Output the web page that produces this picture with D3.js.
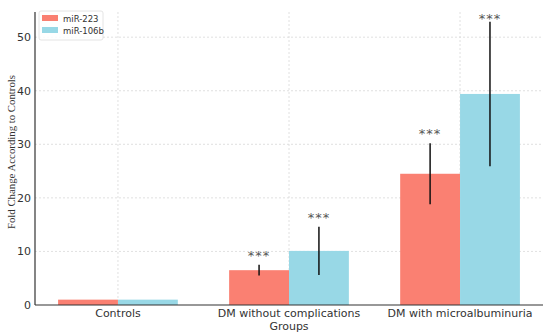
<!DOCTYPE html>
<html><head><meta charset="utf-8">
<script src="https://cdn.jsdelivr.net/npm/d3@7"></script>
<style>body{margin:0;background:#fff}svg{display:block}</style>
</head><body>
<svg id="c" width="550" height="336"></svg>
<script>
const categories = ["Controls", "DM without complications", "DM with microalbuminuria"];
const seriesNames = ["miR-223", "miR-106b"];
const mir223 = [1.0, 6.5, 24.5];
const mir106b = [1.0, 10.1, 39.4];
const mir223Err = [0, 1.0, 5.7];
const mir106bErr = [0, 4.5, 13.5];
const mir223Sig = ["", "***", "***"];
const mir106bSig = ["", "***", "***"];
const yTicks = [0, 10, 20, 30, 40, 50];
const colors = ["#FA8072", "#98D8E6"];

const svg = d3.select("#c");
const L = 35, R = 543, T = 12, B = 305;
const x = d3.scaleLinear().domain([-0.485, 2.485]).range([L, R]);
const y = d3.scaleLinear().domain([0, 54.7]).range([B, T]);
const bw = 0.35;

// grid
const g = svg.append("g");
g.selectAll(".hg").data(yTicks.filter(d => d > 0)).enter().append("line")
  .attr("x1", L).attr("x2", R).attr("y1", d => y(d)).attr("y2", d => y(d))
  .attr("stroke", "#d8d8d8").attr("stroke-width", 0.8).attr("stroke-dasharray", "2,2");
g.selectAll(".vg").data(categories).enter().append("line")
  .attr("x1", (d, i) => x(i)).attr("x2", (d, i) => x(i)).attr("y1", T).attr("y2", B)
  .attr("stroke", "#d8d8d8").attr("stroke-width", 0.8).attr("stroke-dasharray", "2,2");

const series = [
  {name: seriesNames[0], vals: mir223, err: mir223Err, sig: mir223Sig, off: -bw / 2, color: colors[0]},
  {name: seriesNames[1], vals: mir106b, err: mir106bErr, sig: mir106bSig, off: bw / 2, color: colors[1]}
];

series.forEach(s => {
  svg.append("g").selectAll("rect").data(s.vals).enter().append("rect")
    .attr("x", (d, i) => x(i + s.off - bw / 2))
    .attr("width", x(bw) - x(0))
    .attr("y", d => y(d)).attr("height", d => B - y(d))
    .attr("fill", s.color);
});
series.forEach(s => {
  const eg = svg.append("g");
  s.vals.forEach((v, i) => {
    if (s.err[i] > 0) {
      eg.append("line").attr("x1", x(i + s.off)).attr("x2", x(i + s.off))
        .attr("y1", y(v - s.err[i])).attr("y2", y(v + s.err[i]))
        .attr("stroke", "#111").attr("stroke-width", 1.5);
    }
    if (s.sig[i]) {
      const ty = Math.max(y(v + s.err[i]) - 5, 23);
      eg.append("text").attr("x", x(i + s.off)).attr("y", ty)
        .attr("text-anchor", "middle").attr("font-family", "DejaVu Sans")
        .attr("font-size", 13).attr("fill", "#555").attr("letter-spacing", 1).text(s.sig[i]);
    }
  });
});

// axes
svg.append("line").attr("x1", L).attr("x2", L).attr("y1", T).attr("y2", B).attr("stroke", "#333").attr("stroke-width", 1.2);
svg.append("line").attr("x1", L).attr("x2", R).attr("y1", B).attr("y2", B).attr("stroke", "#333").attr("stroke-width", 1.2);

svg.append("g").selectAll("text").data(yTicks).enter().append("text")
  .attr("x", L - 4).attr("y", d => y(d) + 4).attr("text-anchor", "end")
  .attr("font-family", "DejaVu Sans").attr("font-size", 11).attr("fill", "#333").text(d => d);
svg.append("g").selectAll("text").data(categories).enter().append("text")
  .attr("x", (d, i) => x(i)).attr("y", B + 12).attr("text-anchor", "middle")
  .attr("font-family", "DejaVu Sans").attr("font-size", 11).attr("fill", "#333").text(d => d);
svg.append("text").attr("x", x(1)).attr("y", B + 25).attr("text-anchor", "middle")
  .attr("font-family", "DejaVu Sans").attr("font-size", 11).attr("fill", "#333").text("Groups");
svg.append("text").attr("transform", "translate(15,152) rotate(-90)")
  .attr("text-anchor", "middle").attr("font-family", "Liberation Serif").attr("font-size", 10.8)
  .attr("fill", "#333").text("Fold Change According to Controls");

// legend
const lg = svg.append("g").attr("transform", "translate(39,11)");
lg.append("rect").attr("width", 64).attr("height", 29).attr("rx", 2)
  .attr("fill", "#fff").attr("fill-opacity", 0.85).attr("stroke", "#ddd").attr("stroke-width", 0.8);
seriesNames.forEach((n, i) => {
  lg.append("rect").attr("x", 3).attr("y", 4 + i * 12).attr("width", 16).attr("height", 6).attr("fill", colors[i]);
  lg.append("text").attr("x", 24).attr("y", 10.5 + i * 12).attr("font-family", "DejaVu Sans")
    .attr("font-size", 8.5).attr("fill", "#333").text(n);
});
</script>
</body></html>
